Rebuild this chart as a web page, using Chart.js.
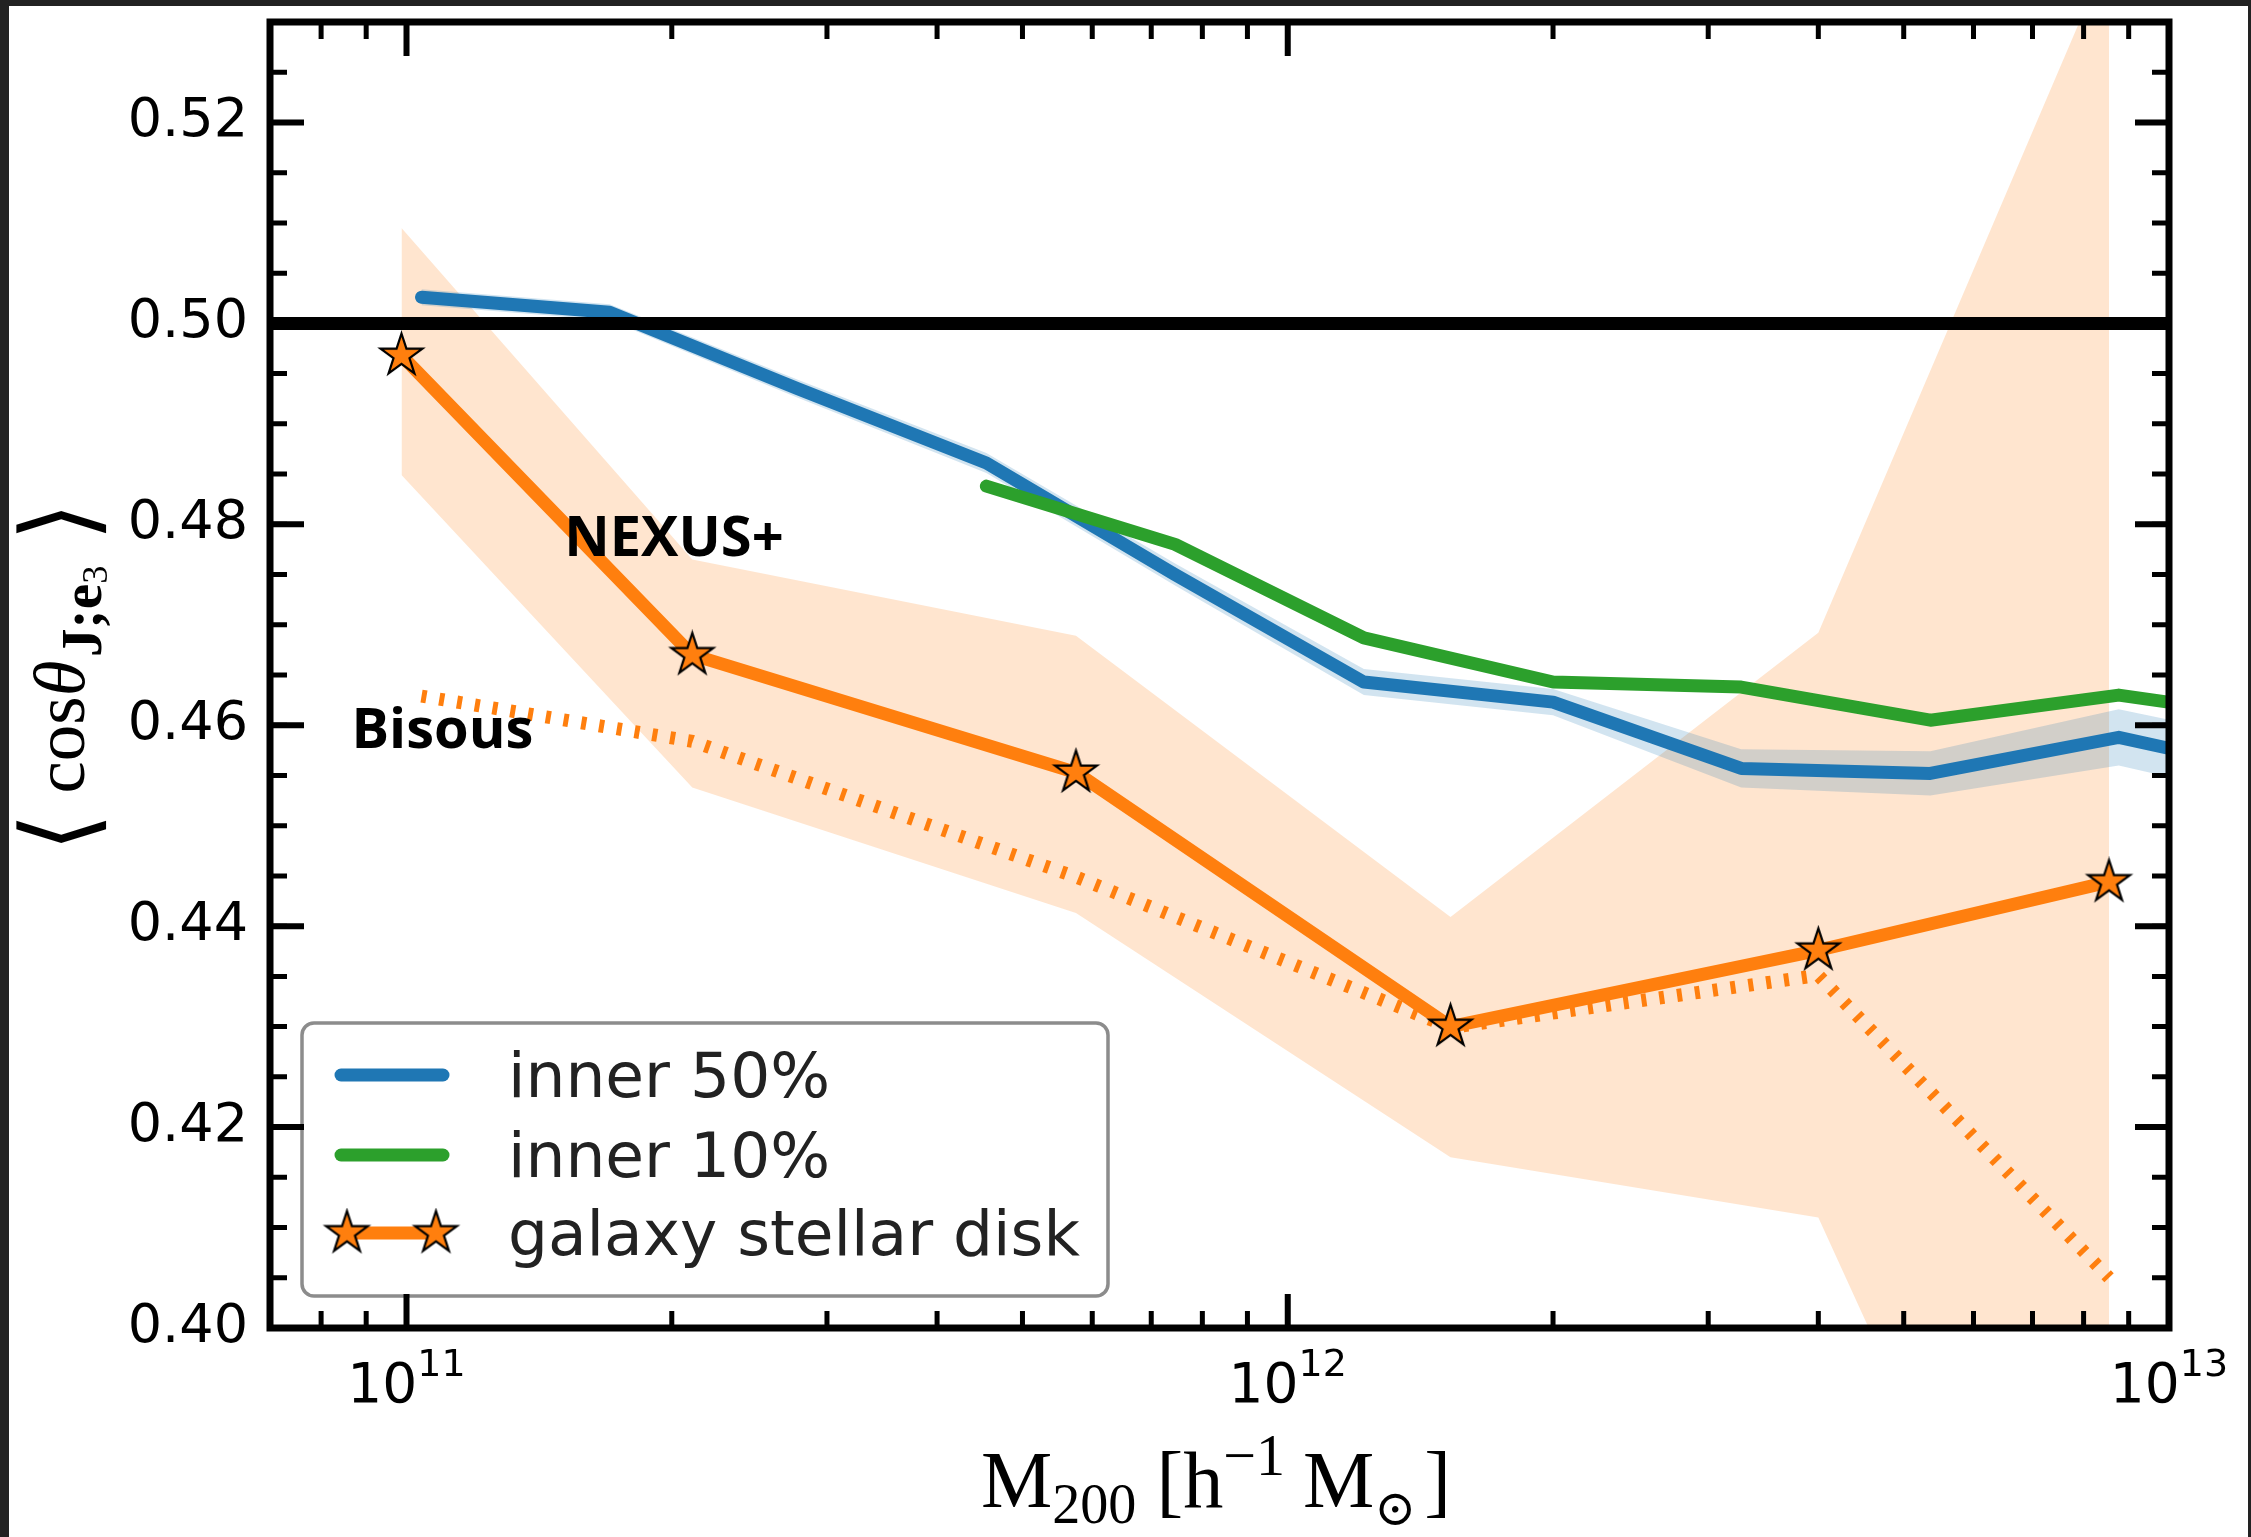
<!DOCTYPE html>
<html>
<head>
<meta charset="utf-8">
<script src="https://cdn.jsdelivr.net/npm/chart.js@4.4.0/dist/chart.umd.min.js"></script>
<style>
  html, body { margin: 0; padding: 0; background: #fff; }
  #wrap { width: 2251px; height: 1537px; }
</style>
</head>
<body>
<div id="wrap"><canvas id="chart" width="2251" height="1537"></canvas></div>
<script>
// Valores
const haloMass = [1.04e11, 1.70e11, 2.78e11, 4.55e11, 7.45e11, 1.22e12, 2.00e12, 3.27e12, 5.36e12, 8.77e12, 1.44e13];
const inner50 = [0.5026, 0.5011, 0.4935, 0.4861, 0.4750, 0.4643, 0.4623, 0.4557, 0.4552, 0.4588, 0.4546];
const inner50Err = [0.0008, 0.0008, 0.0009, 0.0010, 0.0011, 0.0013, 0.0013, 0.0019, 0.0022, 0.0028, 0.0030];

const inner10Mass = [4.55e11, 7.45e11, 1.22e12, 2.00e12, 3.27e12, 5.36e12, 8.77e12, 1.44e13];
const inner10 = [0.4838, 0.4780, 0.4687, 0.4643, 0.4638, 0.4605, 0.4630, 0.4603];

const diskMass = [9.87e10, 2.11e11, 5.75e11, 1.53e12, 4.00e12, 8.55e12];
const diskNexus = [0.4968, 0.4670, 0.4553, 0.4300, 0.4376, 0.4444];
const diskUpper = [0.5095, 0.4765, 0.4689, 0.4409, 0.4692, 0.5369];
const diskLower = [0.4849, 0.4538, 0.4413, 0.4170, 0.4110, 0.3476];

const bisousMass = [1.04e11, 2.11e11, 5.75e11, 1.53e12, 4.00e12, 8.55e12];
const diskBisous = [0.4629, 0.4584, 0.4449, 0.4299, 0.4351, 0.4050];

const randomLevel = 0.5;
const xLimits = [7e10, 1e13];
const yLimits = [0.40, 0.53];
const yTicks = [0.40, 0.42, 0.44, 0.46, 0.48, 0.50, 0.52];
const xDecades = [11, 12, 13];
const legendLabels = ['inner 50%', 'inner 10%', 'galaxy stellar disk'];

const BLUE = '#1f77b4', GREEN = '#2ca02c', ORANGE = '#ff7f0e';

function pts(xs, ys) {
    return xs.map((x, i) => ({ x: x, y: ys[i] }));
}

// Estrella rellena como en matplotlib
function makeStar(R, lw) {
    const size = Math.ceil(2 * R + 2 * lw + 2);
    const c = document.createElement('canvas');
    c.width = c.height = size;
    const g = c.getContext('2d');
    const cx = size / 2, cy = size / 2, r = R * 0.382;
    g.beginPath();
    for (let k = 0; k < 10; k++) {
        const rad = k % 2 ? r : R;
        const a = -Math.PI / 2 + k * Math.PI / 5;
        g.lineTo(cx + rad * Math.cos(a), cy + rad * Math.sin(a));
    }
    g.closePath();
    g.fillStyle = ORANGE;
    g.fill();
    g.lineWidth = lw;
    g.lineJoin = 'miter';
    g.strokeStyle = '#000';
    g.stroke();
    return c;
}
const starImg = makeStar(22, 2.2);

// Dibuja texto con partes (subindices, superindices), centrado en x;
// si se da un ancho objetivo, escala todo el texto para ocuparlo
function drawParts(c, parts, x, y, target) {
    let w = 0;
    parts.forEach(p => { c.font = p.font; w += c.measureText(p.t).width + (p.gap || 0); });
    const k = target ? target / w : 1;
    c.save();
    c.translate(x, y);
    c.scale(k, k);
    let cx = -w / 2;
    parts.forEach(p => {
        c.font = p.font;
        c.fillText(p.t, cx, p.dy || 0);
        cx += c.measureText(p.t).width + (p.gap || 0);
    });
    c.restore();
}

const decorations = {
    id: 'decorations',
    beforeDraw(chart) {
        const c = chart.ctx;
        c.save();
        c.fillStyle = '#222';
        c.fillRect(0, 0, chart.width, chart.height);
        c.fillStyle = '#fff';
        c.fillRect(9, 6, chart.width - 12, chart.height - 6);
        c.restore();
    },
    afterDatasetsDraw(chart) {
        const c = chart.ctx;
        const a = chart.chartArea;
        const xs = chart.scales.x, ys = chart.scales.y;
        c.save();

        // Etiquetas NEXUS+ / Bisous
        c.fillStyle = '#000';
        c.textBaseline = 'alphabetic';
        c.textAlign = 'left';
        c.font = 'bold 56px "Open Sans", "Noto Sans", sans-serif';
        c.fillText('NEXUS+', xs.getPixelForValue(1.51e11), ys.getPixelForValue(0.4768));
        c.fillText('Bisous', xs.getPixelForValue(8.66e10), ys.getPixelForValue(0.4577));

        // Leyenda
        const lx = 302, ly = 1023, lw = 806, lh = 273;
        c.beginPath();
        c.roundRect(lx, ly, lw, lh, 12);
        c.fillStyle = '#fff';
        c.fill();
        c.lineWidth = 3.5;
        c.strokeStyle = '#8c8c8c';
        c.stroke();
        const rows = [1075, 1155, 1233];
        const colors = [BLUE, GREEN, ORANGE];
        c.lineCap = 'round';
        c.lineWidth = 13;
        rows.forEach((ry, i) => {
            c.strokeStyle = colors[i];
            c.beginPath();
            if (i < 2) { c.moveTo(341, ry); c.lineTo(443, ry); }
            else { c.moveTo(347, ry); c.lineTo(436, ry); }
            c.stroke();
            if (i === 2) {
                c.drawImage(starImg, 347 - starImg.width / 2, ry - starImg.height / 2);
                c.drawImage(starImg, 436 - starImg.width / 2, ry - starImg.height / 2);
            }
            c.fillStyle = '#222';
            c.font = '63px "DejaVu Sans"';
            c.fillText(legendLabels[i], 508, ry + 22);
        });

        // Marcas de los ejes (hacia dentro, en los cuatro lados)
        c.strokeStyle = '#000';
        c.lineCap = 'butt';
        const tickY = (v, len, w) => {
            const py = ys.getPixelForValue(v);
            c.lineWidth = w;
            c.beginPath();
            c.moveTo(a.left, py); c.lineTo(a.left + len, py);
            c.moveTo(a.right, py); c.lineTo(a.right - len, py);
            c.stroke();
        };
        const tickX = (v, len, w) => {
            const px = xs.getPixelForValue(v);
            c.lineWidth = w;
            c.beginPath();
            c.moveTo(px, a.bottom); c.lineTo(px, a.bottom - len);
            c.moveTo(px, a.top); c.lineTo(px, a.top + len);
            c.stroke();
        };
        for (let v = yLimits[0]; v <= yLimits[1] + 1e-9; v += 0.005) tickY(v, 17, 5);
        yTicks.forEach(v => tickY(v, 34, 6));
        for (let e = 10; e < 13; e++) {
            for (let m = 2; m <= 9; m++) {
                const v = m * Math.pow(10, e);
                if (v > xLimits[0] && v < xLimits[1]) tickX(v, 17, 5);
            }
        }
        xDecades.forEach(e => tickX(Math.pow(10, e), 34, 6));

        // Marco
        c.lineWidth = 7;
        c.lineJoin = 'miter';
        c.strokeRect(a.left, a.top, a.right - a.left, a.bottom - a.top);

        // Etiquetas del eje x: 10^n
        c.fillStyle = '#000';
        xDecades.forEach(e => {
            const px = xs.getPixelForValue(Math.pow(10, e));
            drawParts(c, [
                { t: '10', font: '55px "DejaVu Sans"' },
                { t: String(e), font: '38px "DejaVu Sans"', dy: -26 }
            ], px, 1402);
        });

        // Titulo del eje x
        const serif = '"Liberation Serif", "DejaVu Serif", serif';
        drawParts(c, [
            { t: 'M', font: '80px ' + serif },
            { t: '200', font: '56px ' + serif, dy: 16, gap: 20 },
            { t: '[h', font: '80px ' + serif },
            { t: '\u22121', font: '58px ' + serif, dy: -32, gap: 18 },
            { t: 'M', font: '80px ' + serif },
            { t: '\u2299', font: '50px "DejaVu Serif"', dy: 18, gap: 8 },
            { t: ']', font: '80px ' + serif }
        ], 1216, 1507, 470);

        // Titulo del eje y
        c.translate(84, 677);
        c.rotate(-Math.PI / 2);
        drawParts(c, [
            { t: '\u27e8', font: '116px "DejaVu Sans"', dy: 10, gap: 22 },
            { t: 'cos', font: '84px ' + serif },
            { t: '\u03b8', font: 'italic 84px ' + serif, gap: 4 },
            { t: 'J;e', font: 'bold 66px ' + serif, dy: 20 },
            { t: '3', font: '42px ' + serif, dy: 27, gap: 28 },
            { t: '\u27e9', font: '116px "DejaVu Sans"', dy: 10 }
        ], 0, 0, 350);

        c.restore();
    }
};

const lineBase = { pointRadius: 0, fill: false, clip: 0, tension: 0, borderCapStyle: 'round', borderJoinStyle: 'round' };

new Chart(document.getElementById('chart'), {
    type: 'line',
    data: {
        datasets: [
            Object.assign({}, lineBase, {
                label: 'disk band', data: pts(diskMass, diskUpper), fill: '+1',
                backgroundColor: 'rgba(255,127,14,0.2)', borderColor: 'rgba(0,0,0,0)', borderWidth: 1, order: 10
            }),
            Object.assign({}, lineBase, {
                label: 'disk band low', data: pts(diskMass, diskLower),
                borderColor: 'rgba(0,0,0,0)', borderWidth: 1, order: 10
            }),
            Object.assign({}, lineBase, {
                label: 'inner 50% band', data: pts(haloMass, inner50.map((v, i) => v + inner50Err[i])), fill: '+1',
                backgroundColor: 'rgba(31,119,180,0.2)', borderColor: 'rgba(0,0,0,0)', borderWidth: 1, order: 9
            }),
            Object.assign({}, lineBase, {
                label: 'inner 50% band low', data: pts(haloMass, inner50.map((v, i) => v - inner50Err[i])),
                borderColor: 'rgba(0,0,0,0)', borderWidth: 1, order: 9
            }),
            Object.assign({}, lineBase, {
                label: 'Bisous', data: pts(bisousMass, diskBisous),
                borderColor: ORANGE, borderWidth: 13, borderDash: [5, 13], borderCapStyle: 'butt',
                borderJoinStyle: 'miter', order: 6
            }),
            Object.assign({}, lineBase, {
                label: legendLabels[0], data: pts(haloMass, inner50),
                borderColor: BLUE, borderWidth: 13, order: 5
            }),
            Object.assign({}, lineBase, {
                label: legendLabels[1], data: pts(inner10Mass, inner10),
                borderColor: GREEN, borderWidth: 13, order: 4
            }),
            Object.assign({}, lineBase, {
                label: 'random', data: pts(xLimits, [randomLevel, randomLevel]),
                borderColor: '#000', borderWidth: 13, borderCapStyle: 'butt', order: 3
            }),
            Object.assign({}, lineBase, {
                label: legendLabels[2], data: pts(diskMass, diskNexus),
                borderColor: ORANGE, borderWidth: 13, order: 2,
                pointStyle: starImg, pointRadius: 22
            })
        ]
    },
    options: {
        responsive: false,
        animation: false,
        events: [],
        layout: { autoPadding: false, padding: { top: 22, right: 82, left: 0, bottom: 0 } },
        plugins: { legend: { display: false }, tooltip: { enabled: false } },
        scales: {
            x: {
                type: 'logarithmic',
                min: xLimits[0], max: xLimits[1],
                grid: { display: false, drawTicks: false },
                border: { display: false },
                ticks: { display: false },
                afterFit: s => { s.height = 209; s.paddingLeft = 0; s.paddingRight = 0; }
            },
            y: {
                type: 'linear',
                min: yLimits[0], max: yLimits[1],
                grid: { display: false, drawTicks: false },
                border: { display: false },
                afterBuildTicks: s => { s.ticks = yTicks.map(v => ({ value: v })); },
                ticks: {
                    color: '#000',
                    padding: 22,
                    font: { family: 'DejaVu Sans', size: 54 },
                    callback: v => Number(v).toFixed(2)
                },
                afterFit: s => { s.width = 270; s.paddingTop = 0; s.paddingBottom = 0; }
            }
        }
    },
    plugins: [decorations]
});
</script>
</body>
</html>
